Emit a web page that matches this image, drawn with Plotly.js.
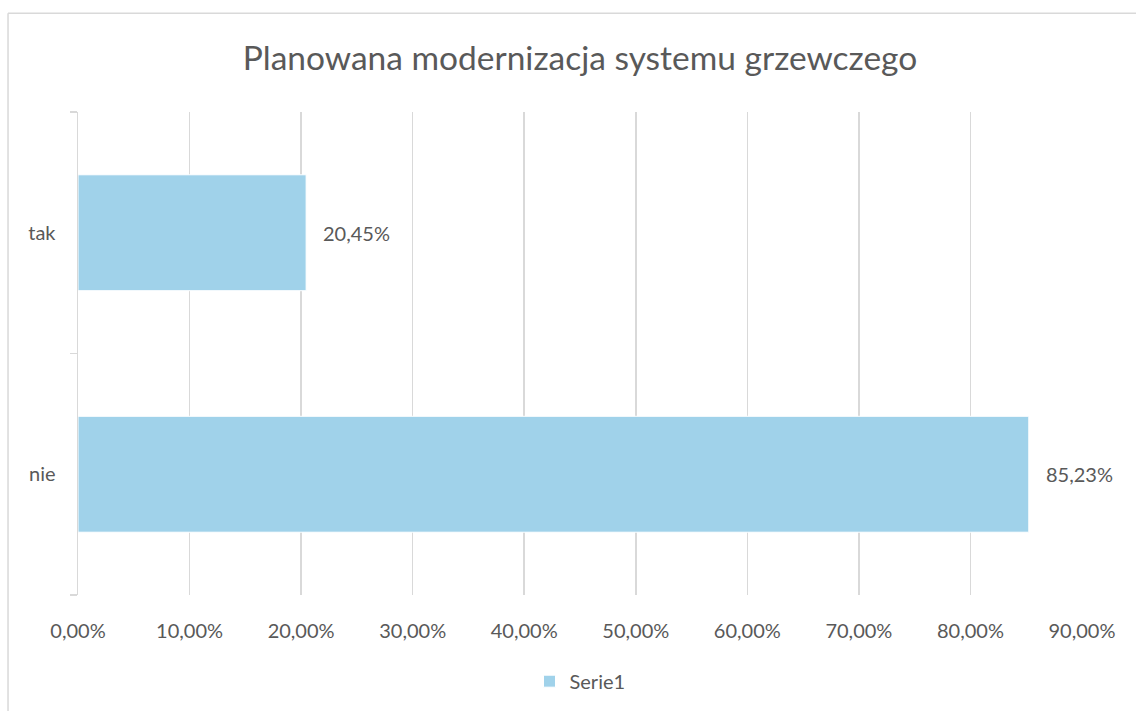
<!DOCTYPE html>
<html>
<head>
<meta charset="utf-8">
<script src="https://cdn.plot.ly/plotly-3.0.1.min.js"></script>
<style>html,body{margin:0;padding:0;background:#fff;}#chart{width:1136px;height:711px;}</style>
</head>
<body>
<div id="chart"></div>
<script>
const categories = ["nie", "tak"];
const values = [0.8523, 0.2045];
const valueLabels = ["85,23%", "20,45%"];
const tickValues = [0, 0.1, 0.2, 0.3, 0.4, 0.5, 0.6, 0.7, 0.8, 0.9];
const tickLabels = ["0,00%", "10,00%", "20,00%", "30,00%", "40,00%", "50,00%", "60,00%", "70,00%", "80,00%", "90,00%"];
const seriesName = "Serie1";
const chartTitle = "Planowana modernizacja systemu grzewczego";

const FONT = "Lato, 'Open Sans', sans-serif";
const GRAY = "#595959";

const trace = {
  type: "bar",
  orientation: "h",
  y: categories,
  x: values,
  name: seriesName,
  marker: {color: "#A0D2EA", line: {color: "#ffffff", width: 1}},
  width: 0.48,
  hoverinfo: "skip",
  showlegend: true
};

const annotations = categories.map((c, i) => ({
  x: values[i], y: c, xref: "x", yref: "y",
  text: valueLabels[i], showarrow: false,
  xanchor: "left", yanchor: "middle", xshift: 15,
  font: {family: FONT, size: 20, color: GRAY}
}));

const layout = {
  width: 1136, height: 711,
  margin: {l: 78, r: 54, t: 112, b: 115},
  paper_bgcolor: "#ffffff", plot_bgcolor: "#ffffff",
  font: {family: FONT, color: GRAY},
  title: {
    text: chartTitle,
    font: {family: FONT, size: 33.5, color: GRAY},
    x: 0.5, xref: "paper", xanchor: "center",
    y: 1 - 58/711, yref: "container", yanchor: "middle"
  },
  xaxis: {
    range: [0, 0.9],
    tickvals: tickValues, ticktext: tickLabels,
    showgrid: true, gridcolor: "#D9D9D9", gridwidth: 1.5,
    zeroline: false, showline: false, ticks: "",
    ticklabelstandoff: 22,
    tickfont: {family: FONT, size: 20, color: GRAY},
    fixedrange: true
  },
  yaxis: {
    type: "category",
    categoryorder: "array", categoryarray: categories,
    showgrid: false, zeroline: false,
    showline: true, linecolor: "#D9D9D9", linewidth: 1.5,
    ticks: "outside", tickson: "boundaries", ticklen: 7, tickcolor: "#D9D9D9", tickwidth: 1.5,
    ticklabelstandoff: 17,
    tickfont: {family: FONT, size: 20, color: GRAY},
    fixedrange: true
  },
  bargap: 0.52,
  showlegend: true,
  legend: {
    orientation: "h", x: 0.5, xanchor: "center",
    y: -0.176, yanchor: "middle",
    font: {family: FONT, size: 20, color: GRAY},
    itemwidth: 30
  },
  annotations: annotations,
  shapes: [
    {type: "line", xref: "paper", yref: "paper", x0: -0.0697, x1: 1.2, y0: 1 + (112-13)/484, y1: 1 + (112-13)/484, line: {color: "#D9D9D9", width: 1.5}},
    {type: "line", xref: "paper", yref: "paper", x0: -0.0697, x1: -0.0697, y0: 1 + (112-13)/484, y1: -0.5, line: {color: "#D9D9D9", width: 1.5}}
  ]
};

Plotly.newPlot("chart", [trace], layout, {displayModeBar: false, staticPlot: true});
</script>
</body>
</html>
